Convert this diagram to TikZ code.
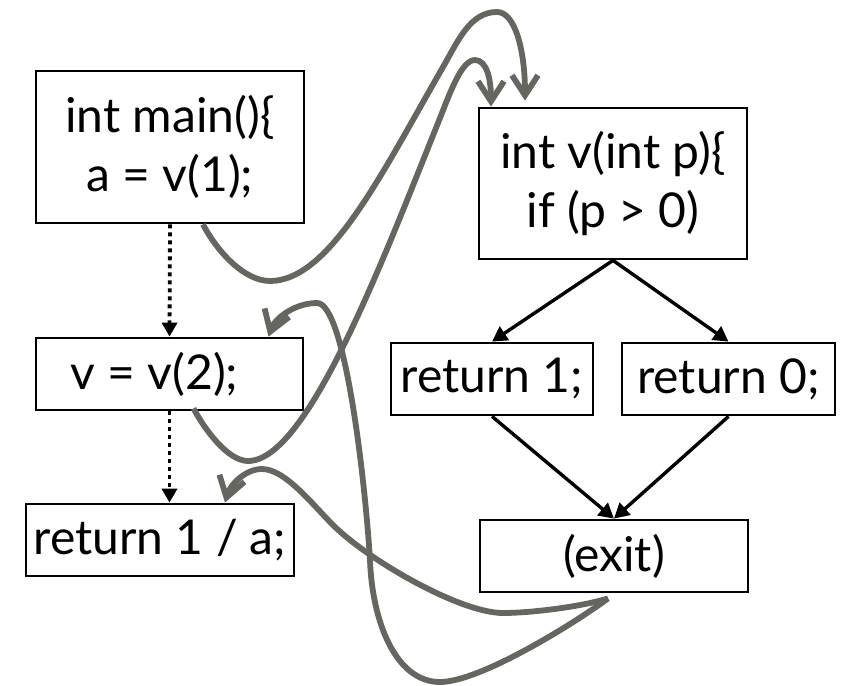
\documentclass[tikz,border=0pt]{standalone}
\usepackage{fontspec}
\setmainfont{Lato}
\usetikzlibrary{arrows.meta,calc}
\definecolor{callgray}{RGB}{102,102,96}
\begin{document}
\begin{tikzpicture}[x=0.5pt,y=-0.5pt,
        box/.style={draw,line width=1.4pt,inner sep=0pt,align=center,
            font=\fontsize{24}{29.5}\selectfont},
        flow/.style={-{Triangle[length=7.5pt,width=8pt]},line width=1.7pt},
        seq/.style={-{Triangle[length=7pt,width=7.5pt]},line width=1.9pt,
            dash pattern=on 2pt off 2pt},
        call/.style={-{Straight Barb[length=10pt,width=13pt]},line width=2.9pt,
            callgray}]
        \useasboundingbox (0,0) rectangle (844,685);

        % 1. Caller: main()
        \node[box,minimum width=134pt,minimum height=76pt] (main) at (170,147) {int main()\{\\a = v(1);};
        \node[box,minimum width=133.5pt,minimum height=36pt] (v2) at (169.5,374) {v = v(2);\hspace*{15pt}};
        \node[box,minimum width=134pt,minimum height=36pt] (ret) at (160,540) {return 1 / a;};

        % 2. Callee: v(int p)
        \node[box,minimum width=134pt,minimum height=75.5pt] (vfun) at (613,183.5) {int v(int p)\{\\if (p > 0)};
        \node[box,minimum width=101pt,minimum height=36pt] (ret1) at (492,379) {return 1;};
        \node[box,minimum width=106.5pt,minimum height=36pt] (ret0) at (728.5,379) {return 0;};
        \node[box,minimum width=134pt,minimum height=36pt] (exit) at (614,556) {(exit)};

        % 3. Control flow inside v
        \draw[flow] (vfun.south) -- (ret1.north);
        \draw[flow] (vfun.south) -- (ret0.north);
        \draw[flow] (ret1.south) -- (exit.north);
        \draw[flow] (ret0.south) -- (exit.north);

        % 4. Sequence in main (dotted)
        \draw[seq] (main.south) -- (v2.north);
        \draw[seq] (v2.south) -- (v2.south |- ret.north);

        % 5. Calls into v
        \draw[call] ($(main.south)+(33,0)$) .. controls (218,253) and (245,281) .. (270,281)
            .. controls (330,281) and (383,171) .. (443,67)
            .. controls (458,41) and (470,12) .. (497,12)
            .. controls (515,12) and (525,50) .. ($(vfun.north)+(-88,-6)$);
        \draw[call] ($(v2.south)+(24,-3)$) .. controls (205,430) and (228,461) .. (248,461)
            .. controls (308,461) and (384,257) .. (440,118)
            .. controls (451,90) and (462,60) .. (475,60)
            .. controls (487,60) and (491,80) .. ($(vfun.north)+(-122,0)$);

        % 6. Returns from v
        \draw[call] ($(exit.south)+(-6,5)$) .. controls (580,607) and (530,613) .. (503,613)
            .. controls (460,613) and (368,560) .. (333,525)
            .. controls (312,504) and (285,469) .. (262,469)
            .. controls (245,469) and (230,485) .. ($(ret.north)+(65,0)$);
        \draw[call] ($(exit.south)+(-6,5)$) .. controls (575,623) and (480,682) .. (440,682)
            .. controls (395,682) and (372,620) .. (370,560)
            .. controls (365,480) and (345,303) .. (317,303)
            .. controls (295,303) and (275,318) .. ($(v2.north)+(99,0)$);

    \end{tikzpicture}
\end{document}
